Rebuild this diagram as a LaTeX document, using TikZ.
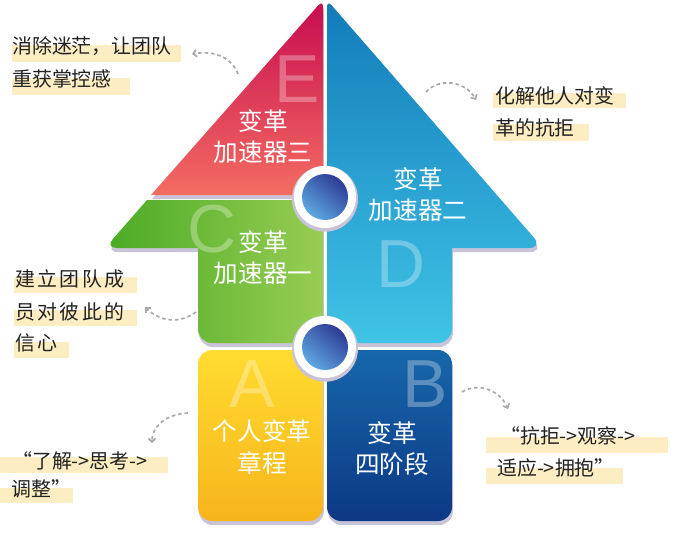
\documentclass[tikz,border=0pt]{standalone}
\usepackage{fontspec}
\usepackage{tikz}
\usetikzlibrary{arrows.meta, shadows}

\newfontfamily\cjkfont{Noto Sans CJK SC}
\newfontfamily\widecjkfont[LetterSpace=12]{Noto Sans CJK SC}
\newfontfamily\letterfont{Liberation Sans}

\definecolor{redTop}{HTML}{C80B50}
\definecolor{redBottom}{HTML}{F36C61}
\definecolor{greenLeft}{HTML}{4AAB24}
\definecolor{greenRight}{HTML}{98CD54}
\definecolor{yellowTop}{HTML}{FFDC30}
\definecolor{yellowBottom}{HTML}{F7B41B}
\definecolor{blueTop}{HTML}{127BBA}
\definecolor{blueBottom}{HTML}{3FC4E6}
\definecolor{navyTop}{HTML}{1767AA}
\definecolor{navyBottom}{HTML}{0D3886}
\definecolor{hubDark}{HTML}{2E3B96}
\definecolor{hubLight}{HTML}{5EA8E0}
\definecolor{shadowGray}{HTML}{C9C3D8}
\definecolor{barYellow}{HTML}{FDEDC2}
\definecolor{hintGray}{HTML}{A8A8A8}
\definecolor{noteInk}{HTML}{222222}

\begin{document}
\begin{tikzpicture}[x=0.03cm, y=-0.03cm,
		piece/.style={drop shadow={shadow xshift=0.8pt, shadow yshift=-3.5pt, fill=shadowGray, opacity=1}},
		stagetext/.style={text=white, align=center, font=\cjkfont\fontsize{21}{26.5}\selectfont},
		bigletter/.style={text=white, text opacity=0.3, inner sep=0pt, font=\letterfont\fontsize{58}{58}\selectfont},
		notetext/.style={anchor=west, inner sep=0pt, text=noteInk, font=\cjkfont\fontsize{17}{17}\selectfont},
		notebar/.style={fill=barYellow},
		hint/.style={draw=hintGray, line width=1.4pt, dash pattern=on 3pt off 2.5pt, -{Straight Barb[length=3pt, width=6pt]}}]
			\useasboundingbox (0,0) rectangle (674,532);

			% Draw the left half of the arrow
			\shade[piece, top color=redTop, bottom color=redBottom]
				(323,100) -- (323,195) -- (151,195) -- (237,97.5) [rounded corners=6] -- (323,0) -- (323,50) [sharp corners] -- cycle;
			\shade[piece, left color=greenLeft, right color=greenRight]
				(323,270) -- (323,200) -- (147,200) -- (126,224) [rounded corners=10] -- (105,248) -- (150,248) [sharp corners] -- (198,248)
				-- (198,300) [rounded corners=12] -- (198,343) -- (260,343) [sharp corners] -- (323,343) -- cycle;
			\shade[piece, top color=yellowTop, bottom color=yellowBottom, rounded corners=12] (198,350) rectangle (323,521);

			% Draw the right half of the arrow
			\shade[piece, top color=blueTop, bottom color=blueBottom]
				(327,200) [rounded corners=6] -- (327,0) -- (435,124) [rounded corners=12] -- (543,248) -- (500,248) [sharp corners] -- (452,248)
				-- (452,300) [rounded corners=12] -- (452,343) -- (390,343) [sharp corners] -- (327,343) -- cycle;
			\shade[piece, top color=navyTop, bottom color=navyBottom, rounded corners=12] (327,350) rectangle (452,521);

			% Draw the two hubs on the middle line
			\coordinate (hubTop) at (325,197);
			\coordinate (hubBottom) at (325,347);
			\foreach \hub in {hubTop, hubBottom} {
				\fill[shadowGray] ([yshift=-1.5pt]\hub) circle[radius=33];
				\fill[white] (\hub) circle[radius=31];
				\shade[top color=hubDark, bottom color=hubLight, shading angle=-40] (\hub) circle[radius=23];
			}

			% Draw the big letters
			\node[bigletter] (letterE) at (297,79) {E};
			\node[bigletter] (letterC) at (212,229) {C};
			\node[bigletter] (letterD) at (401,264) {D};
			\node[bigletter] (letterA) at (252,384) {A};
			\node[bigletter] (letterB) at (425,384) {B};

			% Draw the texts of the pieces
			\node[stagetext] (accThree) at (263,137) {变革\\加速器三};
			\node[stagetext] (accOne) at (263,258) {变革\\加速器一};
			\node[stagetext] (accTwo) at (418,195) {变革\\加速器二};
			\node[stagetext] (charter) at (262,447) {个人变革\\章程};
			\node[stagetext] (stages) at (392,449) {变革\\四阶段};

			% Draw the highlight bars under the notes
			\fill[notebar] (12,45) rectangle (181,62);
			\fill[notebar] (12,78) rectangle (130,95);
			\fill[notebar] (493,93) rectangle (626,108);
			\fill[notebar] (493,124) rectangle (589,141);
			\fill[notebar] (14,277) rectangle (137,293);
			\fill[notebar] (14,310) rectangle (137,326);
			\fill[notebar] (14,342) rectangle (69,358);
			\fill[notebar] (0,457) rectangle (168,473);
			\fill[notebar] (0,488) rectangle (73,503);
			\fill[notebar] (486,437) rectangle (668,453);
			\fill[notebar] (486,468) rectangle (623,484);

			% Draw the notes
			\node[notetext] (noteE1) at (12,46) {消除迷茫，让团队};
			\node[notetext] (noteE2) at (12,79) {重获掌控感};
			\node[notetext] (noteD1) at (495,96) {化解他人对变};
			\node[notetext] (noteD2) at (495,128) {革的抗拒};
			\node[notetext, font=\widecjkfont\fontsize{17}{17}\selectfont] (noteC1) at (15,279) {建立团队成};
			\node[notetext, font=\widecjkfont\fontsize{17}{17}\selectfont] (noteC2) at (15,312) {员对彼此的};
			\node[notetext, font=\widecjkfont\fontsize{17}{17}\selectfont] (noteC3) at (15,343) {信心};
			\node[notetext] (noteA1) at (12,461) {“了解->思考->};
			\node[notetext] (noteA2) at (11,489) {调整”};
			\node[notetext] (noteB1) at (500,436) {“抗拒->观察->};
			\node[notetext] (noteB2) at (497,468) {适应->拥抱”};

			% Draw the dashed hints from the pieces to the notes
			\coordinate (tailE) at (238,74);
			\coordinate (headE) at (192,54);
			\coordinate (tailD) at (426,92);
			\coordinate (headD) at (476,100);
			\coordinate (tailC) at (196,312);
			\coordinate (headC) at (145,307);
			\coordinate (tailA) at (188,413);
			\coordinate (headA) at (152,443);
			\coordinate (tailB) at (462,392);
			\coordinate (headB) at (508,409);
			\draw[hint] (tailE) .. controls (232,58) and (215,50) .. (headE);
			\draw[hint] (tailD) .. controls (438,78) and (465,80) .. (headD);
			\draw[hint] (tailC) .. controls (180,324) and (160,322) .. (headC);
			\draw[hint] (tailA) .. controls (168,414) and (152,425) .. (headA);
			\draw[hint] (tailB) .. controls (478,382) and (500,390) .. (headB);

		\end{tikzpicture}
\end{document}
